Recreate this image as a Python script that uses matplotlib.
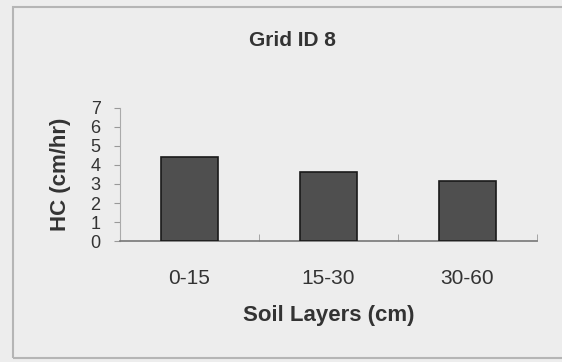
import numpy as np
import matplotlib
matplotlib.use("Agg")
from matplotlib import pyplot as plt
from matplotlib.patches import Rectangle

plt.rcParams['font.family'] = ['Liberation Sans', 'DejaVu Sans']

layers = ['0-15', '15-30', '30-60']
hc = [4.4, 3.65, 3.15]
yticks = [0, 1, 2, 3, 4, 5, 6, 7]

fig = plt.figure(figsize=(5.62, 3.62), dpi=100, facecolor='#ededed')
ax = fig.add_axes([0.2135, 0.334, 0.742, 0.368])
ax.set_facecolor('none')

x = np.arange(len(layers))
ax.bar(x, hc, width=0.41, color='#4f4f4f', edgecolor='#1a1a1a', linewidth=1.2, zorder=3)

ax.set_xlim(-0.5, len(layers) - 0.5)
ax.set_ylim(0, 7)
ax.set_yticks(yticks)
ax.set_yticklabels([str(t) for t in yticks], fontsize=13, color='#333333')

# category labels centered, tick marks on the category boundaries
ax.set_xticks(x)
ax.set_xticklabels(layers, fontsize=15, color='#333333')
ax.tick_params(axis='x', length=0, pad=20)
ax.set_xticks(np.arange(-0.5, len(layers), 1), minor=True)
ax.tick_params(axis='x', which='minor', length=5, color='#999999', direction='in')
ax.tick_params(axis='y', length=4, color='#999999', pad=10)

for s in ['top', 'right']:
    ax.spines[s].set_visible(False)
ax.spines['left'].set_color('#aaaaaa')
ax.spines['bottom'].set_color('#777777')
ax.spines['bottom'].set_linewidth(1.2)

fig.text(292 / 562, 1 - 41 / 362, 'Grid ID 8', fontsize=15, fontweight='bold',
         color='#333333', ha='center', va='center')
ax.set_ylabel('HC (cm/hr)', fontsize=16, fontweight='bold', color='#333333', labelpad=14)
ax.set_xlabel('Soil Layers (cm)', fontsize=16, fontweight='bold', color='#333333', labelpad=12)

# page frame around the chart
fig.patches.append(Rectangle((13 / 562, 4 / 362), 1.1, 1 - 11 / 362, transform=fig.transFigure,
                             fill=False, edgecolor='#b5b5b5', linewidth=1.5))

fig.savefig('out.png', dpi=100, facecolor=fig.get_facecolor())
